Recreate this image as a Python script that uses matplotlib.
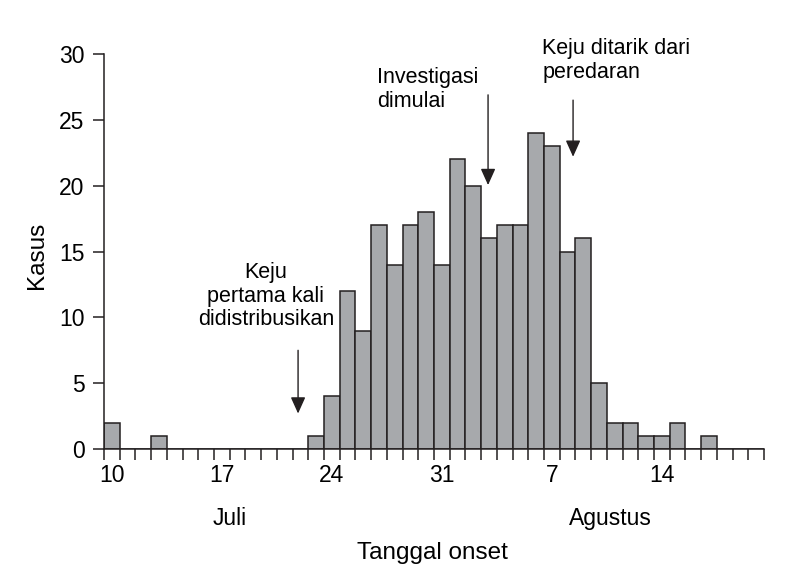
import matplotlib
matplotlib.use('Agg')
import matplotlib.pyplot as plt
import matplotlib.transforms as mtransforms
import numpy as np

plt.rcParams['font.family'] = ['Liberation Sans', 'DejaVu Sans']

# one bin per day, starting at 10 July
counts = [2, 0, 0, 1, 0, 0, 0, 0, 0, 0, 0, 0, 0, 1, 4, 12, 9, 17, 14, 17, 18,
          14, 22, 20, 16, 17, 17, 24, 23, 15, 16, 5, 2, 2, 1, 1, 2, 0, 1, 0,
          0, 0]
tick_days = [10, 17, 24, 31, 7, 14]
tick_index = [0, 7, 14, 21, 28, 35]
months = ['Juli', 'Agustus']
month_x = [8.0, 32.2]

# (text, text pos, arrow top, arrow tip, alignment)
notes = [
    ('Keju\npertama kali\ndidistribusikan', (10.3, 11.6), (12.35, 7.5), (12.35, 2.7), 'center'),
    ('Investigasi\ndimulai', (17.4, 27.3), (24.44, 26.9), (24.44, 20.05), 'left'),
    ('Keju ditarik dari\nperedaran', (27.9, 29.5), (29.85, 26.5), (29.85, 22.2), 'left'),
]

fig = plt.figure(figsize=(8, 5.75), dpi=100)
ax = fig.add_axes([0.13, 0.219, 0.825, 0.687])

edges = np.arange(len(counts) + 1)
ax.bar(edges[:-1], counts, width=1, align='edge', color='#a7a9ac',
       edgecolor='#231f20', linewidth=1.1, zorder=2)

ax.set_xlim(0, len(counts))
ax.set_ylim(0, 30)
ax.set_yticks(np.arange(0, 31, 5))

ax.set_xticks(edges)
ax.set_xticklabels([])
ax.set_xticks(np.array(tick_index) + 0.5, minor=True)
ax.set_xticklabels([str(d) for d in tick_days], minor=True)
ax.tick_params(axis='x', which='major', direction='out', length=8,
               width=1.1, color='#231f20')
ax.tick_params(axis='x', which='minor', length=0, pad=11, labelsize=16.5)
ax.tick_params(axis='y', direction='out', length=8, width=1.1,
               color='#231f20', labelsize=16.5, pad=6)

for side in ['top', 'right']:
    ax.spines[side].set_visible(False)
for side in ['left', 'bottom']:
    ax.spines[side].set_linewidth(1.1)
    ax.spines[side].set_color('#231f20')

trans = mtransforms.blended_transform_factory(ax.transData, ax.transAxes)
for name, x in zip(months, month_x):
    ax.text(x, -0.175, name, transform=trans, ha='center', va='center',
            fontsize=16.5)

ax.set_xlabel('Tanggal onset', fontsize=17.5, va='center')
ax.set_ylabel('Kasus', fontsize=17.5, va='center')
ax.xaxis.set_label_coords(0.497, -0.263)
ax.yaxis.set_label_coords(-0.1015, 0.49)

for text, tpos, top, tip, ha in notes:
    ax.text(tpos[0], tpos[1], text, ha=ha, va='center', fontsize=15.5,
            linespacing=1.15, multialignment=ha)
    ax.annotate('', xy=tip, xytext=top,
                arrowprops=dict(arrowstyle='-|>,head_length=1.0,head_width=0.45',
                                color='#231f20', lw=1.0, shrinkA=0, shrinkB=0,
                                mutation_scale=10))

fig.savefig('out.png', dpi=100)
